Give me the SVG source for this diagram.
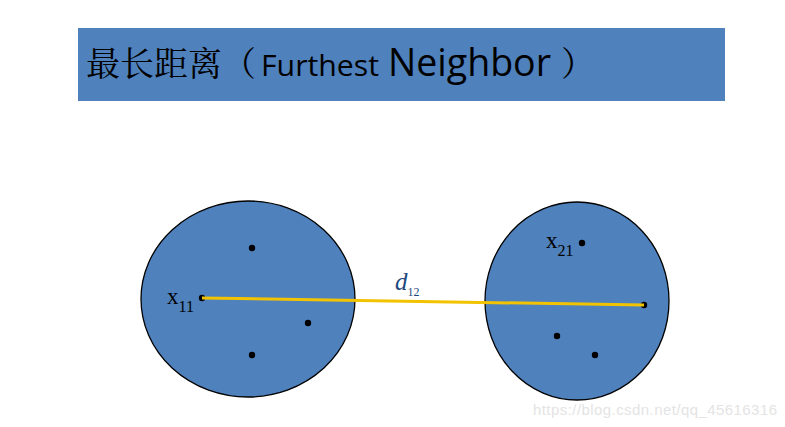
<svg xmlns="http://www.w3.org/2000/svg" width="785" height="427" viewBox="0 0 785 427">
<style>
.cl{fill:#4f81bd;stroke:#000;stroke-width:1.3}
.pt{fill:#000}
.lb{font-family:"Liberation Serif",serif;font-size:23px;fill:#000}
.sb{font-size:16px}
.lat{font-family:"Open Sans","Liberation Sans",sans-serif}
</style>
<rect width="785" height="427" fill="#fff"/>
<g id="title">
<rect x="78" y="28" width="647" height="73" fill="#4f81bd"/>
<text y="76" font-family="'Noto Serif CJK SC','Noto Sans CJK SC',serif" font-size="34" fill="#000"><tspan x="86">最长距离（</tspan><tspan class="lat" x="261" font-size="30" textLength="118" lengthAdjust="spacingAndGlyphs">Furthest</tspan><tspan class="lat" x="388" font-size="38" textLength="163" lengthAdjust="spacingAndGlyphs">Neighbor</tspan><tspan x="561">）</tspan></text>
</g>
<g id="cluster1">
<ellipse class="cl" cx="248" cy="299" rx="107" ry="98"/>
<circle class="pt" cx="252" cy="248" r="3.2"/>
<circle class="pt" cx="202" cy="298" r="3.2"/>
<circle class="pt" cx="308" cy="323" r="3.2"/>
<circle class="pt" cx="252" cy="355" r="3.2"/>
<text class="lb" x="167" y="304">x<tspan class="sb" dy="8">11</tspan></text>
</g>
<g id="cluster2">
<ellipse class="cl" cx="577" cy="301" rx="92" ry="99"/>
<circle class="pt" cx="582" cy="243" r="3.2"/>
<circle class="pt" cx="644" cy="305" r="3.2"/>
<circle class="pt" cx="557" cy="336" r="3.2"/>
<circle class="pt" cx="595" cy="355" r="3.2"/>
<text class="lb" x="546" y="248">x<tspan class="sb" dy="8">21</tspan></text>
</g>
<g id="connectors">
<line x1="202" y1="298" x2="644" y2="305" stroke="#f2c300" stroke-width="3"/>
<text x="395" y="290" font-family="'Liberation Serif',serif" font-style="italic" font-size="25" fill="#1f497d">d<tspan font-style="normal" font-size="12" dy="6">12</tspan></text>
</g>
<text x="533" y="415" font-family="'Liberation Sans',sans-serif" font-size="15" fill="#e4e4e4" textLength="244">https://blog.csdn.net/qq_45616316</text>
</svg>
